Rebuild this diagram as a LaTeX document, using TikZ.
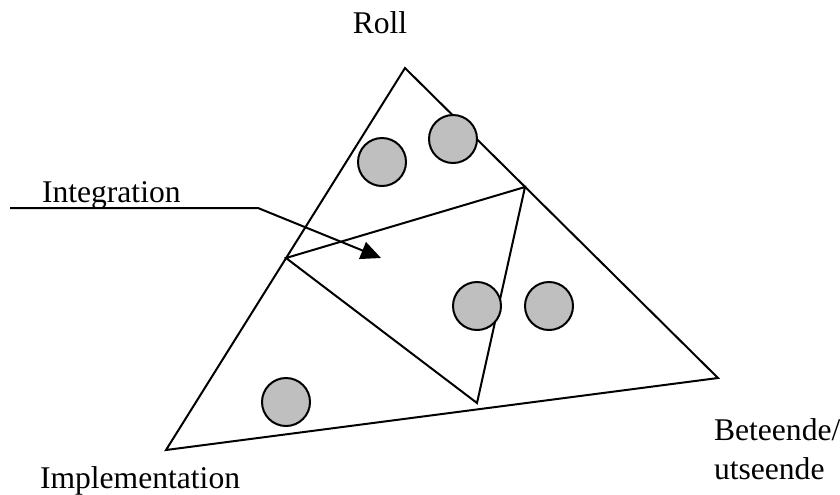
\documentclass[tikz,border=0pt]{standalone}
\usepackage{fontspec}
\setmainfont{Liberation Serif}
\usetikzlibrary{arrows.meta, positioning}

\begin{document}
\begin{tikzpicture}[
  x=0.5pt, y=-0.5pt, line width=1pt, line join=miter,
  ball/.style={circle, draw, fill=black!25, minimum size=24pt, inner sep=0pt},
  label/.style={font=\fontsize{15.8}{19}\selectfont, inner sep=0pt},
  >={Triangle[length=10pt, width=9pt]}
]
  \useasboundingbox (0,0) rectangle (840,494);

  % Corners
  \coordinate (R) at (405,68);
  \coordinate (I) at (166,450);
  \coordinate (B) at (718,378);
  \coordinate (IL) at (286,258);
  \coordinate (IT) at (525,187);
  \coordinate (IB) at (477,403);

  % Triangles
  \draw (R) -- (I) -- (B) -- cycle;
  \draw (IL) -- (IT) -- (IB) -- cycle;

  % Balls
  \node[ball] (b1) at (382,162) {};
  \node[ball] (b2) at (453,139) {};
  \node[ball] (b3) at (477,306) {};
  \node[ball] (b4) at (549,306) {};
  \node[ball] (b5) at (286,402) {};

  % Labels
  \node[label, anchor=base] (roll) at (380,33) {Roll};
  \node[label, anchor=base west] (integ) at (41,202) {Integration};
  \node[label, anchor=base west] (bet) at (713,440) {Beteende/};
  \node[label, anchor=base west] (uts) at (713,479) {utseende};
  \node[label, anchor=base west] (impl) at (39,488) {Implementation};

  % Pointer
  \coordinate (p0) at (10,208);
  \coordinate (p1) at (258,208);
  \coordinate (p2) at (381,258);
  \draw[->] (p0) -- (p1) -- (p2);
\end{tikzpicture}
\end{document}
